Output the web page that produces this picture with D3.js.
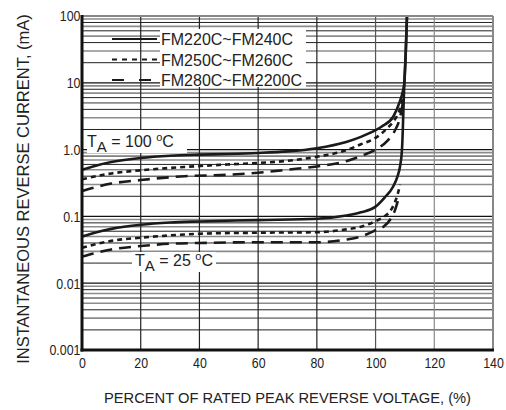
<!DOCTYPE html>
<html>
<head>
<meta charset="utf-8">
<script src="https://cdn.jsdelivr.net/npm/d3@7"></script>
<style>
  body { margin: 0; background: #fff; }
  svg { display: block; }
  .tick text { font-family: "Liberation Sans Narrow", "Arial Narrow", "Liberation Sans", Arial, sans-serif; font-size: 15.5px; fill: #222; }
  .lbl { font-family: "Liberation Sans", Arial, sans-serif; fill: #222; }
</style>
</head>
<body>
<div id="chart"></div>
<script>
// valores (mA vs % de tension)
const xTicks = [0, 20, 40, 60, 80, 100, 120, 140];
const yTicks = [0.001, 0.01, 0.1, 1, 10, 100];
const yTickLabels = ["0.001", "0.01", "0.1", "1.0", "10", "100"];
const legendLabels = ["FM220C~FM240C", "FM250C~FM260C", "FM280C~FM2200C"];
const tempLabels = ["100", "25"];

// T = 100 C
const solid100 = [[0,0.5],[5,0.58],[10,0.65],[20,0.75],[30,0.81],[40,0.84],[50,0.86],[60,0.89],[70,0.94],[80,1.05],[90,1.3],[95,1.55],[100,1.95],[102,2.2],[106,3.1],[108.3,5.3],[109.3,7.5],[109.8,10],[110.3,30],[110.7,100]];
const short100 = [[0,0.36],[10,0.44],[20,0.49],[35,0.55],[50,0.6],[60,0.63],[70,0.68],[80,0.78],[90,0.98],[95,1.2],[100,1.5],[104,2.1],[106.5,2.8],[108.3,4],[109.4,6]];
const long100 = [[0,0.24],[10,0.31],[20,0.35],[35,0.4],[50,0.42],[60,0.45],[70,0.5],[80,0.56],[90,0.67],[95,0.8],[100,1.0],[104,1.35],[106.5,1.9],[108.3,3],[109.3,5]];

// T = 25 C
const solid25 = [[0,0.05],[5,0.058],[10,0.065],[20,0.075],[30,0.081],[40,0.084],[60,0.088],[80,0.092],[90,0.103],[95,0.115],[100,0.14],[103,0.19],[106,0.28],[107.5,0.4],[108.3,0.55],[109,1.0],[109.8,10],[110.3,30],[110.7,100]];
const short25 = [[0,0.034],[10,0.043],[20,0.048],[30,0.052],[40,0.055],[60,0.057],[80,0.058],[90,0.064],[95,0.07],[100,0.085],[103,0.1],[105,0.12],[106.5,0.16],[107.6,0.22],[108.3,0.3]];
const long25 = [[0,0.025],[10,0.032],[20,0.036],[30,0.039],[40,0.04],[60,0.041],[80,0.041],[90,0.045],[95,0.05],[100,0.062],[103,0.072],[105,0.09],[106.5,0.12],[107.6,0.17]];

const W = 506, H = 410;
const pLeft = 82, pRight = 493, pTop = 16, pBottom = 350;

const svg = d3.select("#chart").append("svg")
    .attr("width", W).attr("height", H);

const x = d3.scaleLinear().domain([0, 140]).range([pLeft, pRight]);
const y = d3.scaleLog().domain([0.001, 100]).range([pBottom, pTop]);

// rejilla horizontal (menores)
const minors = [];
yTicks.slice(0, -1).forEach(d => {
    for (let k = 2; k <= 9; k++) minors.push({v: k * d, k: k});
});
svg.append("g").selectAll("line")
    .data(minors)
    .join("line")
    .attr("x1", pLeft).attr("x2", pRight)
    .attr("y1", d => y(d.v)).attr("y2", d => y(d.v))
    .attr("stroke", d => d.k % 2 === 0 ? "#222" : "#8c8c8c")
    .attr("stroke-width", d => d.k % 2 === 0 ? 1 : 1.6);
svg.append("g").selectAll("line")
    .data(yTicks.slice(1, -1))
    .join("line")
    .attr("x1", pLeft).attr("x2", pRight)
    .attr("y1", d => y(d)).attr("y2", d => y(d))
    .attr("stroke", "#111")
    .attr("stroke-width", 1.2);

// rejilla vertical
svg.append("g").selectAll("line")
    .data(xTicks.slice(1, -1))
    .join("line")
    .attr("x1", d => x(d)).attr("x2", d => x(d))
    .attr("y1", pTop).attr("y2", pBottom)
    .attr("stroke", d => d >= 120 ? "#888" : (d >= 100 ? "#555" : "#222"))
    .attr("stroke-width", 1.2);

// cajas blancas detras de los textos
svg.append("rect").attr("x", 160).attr("y", 29).attr("width", 146).attr("height", 58).attr("fill", "#fff");
svg.append("rect").attr("x", 87).attr("y", 130).attr("width", 100).attr("height", 23).attr("fill", "#fff");
svg.append("rect").attr("x", 132).attr("y", 252).attr("width", 84).attr("height", 20).attr("fill", "#fff");

// curvas
const line = d3.line()
    .x(d => x(d[0]))
    .y(d => y(d[1]))
    .curve(d3.curveMonotoneX);

const dashes = [null, "5,4", "12,7"];
const curves = [
    {data: solid100, dash: dashes[0]},
    {data: short100, dash: dashes[1]},
    {data: long100, dash: dashes[2]},
    {data: solid25, dash: dashes[0]},
    {data: short25, dash: dashes[1]},
    {data: long25, dash: dashes[2]}
];
svg.append("g").selectAll("path")
    .data(curves)
    .join("path")
    .attr("d", d => line(d.data))
    .attr("fill", "none")
    .attr("stroke", "#1a1a1a")
    .attr("stroke-width", 2.6)
    .attr("stroke-dasharray", d => d.dash);

// marco
svg.append("line").attr("x1", pLeft).attr("x2", pRight).attr("y1", pTop).attr("y2", pTop)
    .attr("stroke", "#888").attr("stroke-width", 2);
svg.append("line").attr("x1", pRight).attr("x2", pRight).attr("y1", pTop).attr("y2", pBottom)
    .attr("stroke", "#888").attr("stroke-width", 2);
svg.append("line").attr("x1", pLeft).attr("x2", pLeft).attr("y1", pTop - 1).attr("y2", pBottom + 1.5)
    .attr("stroke", "#111").attr("stroke-width", 3);
svg.append("line").attr("x1", pLeft - 1.5).attr("x2", pRight + 1).attr("y1", pBottom).attr("y2", pBottom)
    .attr("stroke", "#111").attr("stroke-width", 3);

// ejes (texto estrechado como en la hoja de datos)
const axisX = d3.axisBottom(x).tickValues(xTicks).tickSize(0).tickPadding(7).tickFormat(d3.format("d"));
svg.append("g")
    .attr("transform", `translate(0, ${pBottom})`)
    .call(axisX)
    .call(g => g.select(".domain").remove())
    .call(g => g.selectAll("text").attr("transform", "scale(0.8,1)"));

const axisY = d3.axisLeft(y).tickValues(yTicks).tickSize(0).tickPadding(2)
    .tickFormat((d, i) => yTickLabels[i]);
svg.append("g")
    .attr("transform", `translate(${pLeft}, 0)`)
    .call(axisY)
    .call(g => g.select(".domain").remove())
    .call(g => g.selectAll("text").attr("transform", "scale(0.8,1)"));

// leyenda
const legend = svg.append("g").selectAll("g")
    .data(legendLabels)
    .join("g")
    .attr("transform", (d, i) => `translate(0, ${39 + i * 20.5})`);
legend.append("line")
    .attr("x1", 112).attr("x2", 157)
    .attr("stroke", "#1a1a1a")
    .attr("stroke-width", 2)
    .attr("stroke-dasharray", (d, i) => i === 0 ? null : (i === 1 ? "5,5" : "12,15"));
legend.append("text")
    .attr("class", "lbl")
    .attr("x", 161).attr("y", 6)
    .attr("font-size", 16)
    .text(d => d);

// etiquetas de temperatura
function tempLabel(xp, yp, t) {
    const g = svg.append("text").attr("class", "lbl").attr("x", xp).attr("y", yp).attr("font-size", 16);
    g.append("tspan").text("T");
    g.append("tspan").attr("dy", 5).attr("font-size", 15).text("A");
    g.append("tspan").attr("dy", -5).text(" = " + t + " ");
    g.append("tspan").attr("dy", -6).attr("font-size", 11).text("o");
    g.append("tspan").attr("dy", 6).text("C");
}
tempLabel(87, 147, tempLabels[0]);
tempLabel(135, 266, tempLabels[1]);

// titulos de los ejes
svg.append("text")
    .attr("class", "lbl")
    .attr("x", (pLeft + pRight) / 2).attr("y", 403)
    .attr("text-anchor", "middle")
    .attr("font-size", 14.7)
    .text("PERCENT OF RATED PEAK REVERSE VOLTAGE, (%)");
svg.append("text")
    .attr("class", "lbl")
    .attr("transform", "translate(29, 189) rotate(-90)")
    .attr("text-anchor", "middle")
    .attr("font-size", 16.5)
    .text("INSTANTANEOUS REVERSE CURRENT, (mA)");
</script>
</body>
</html>
